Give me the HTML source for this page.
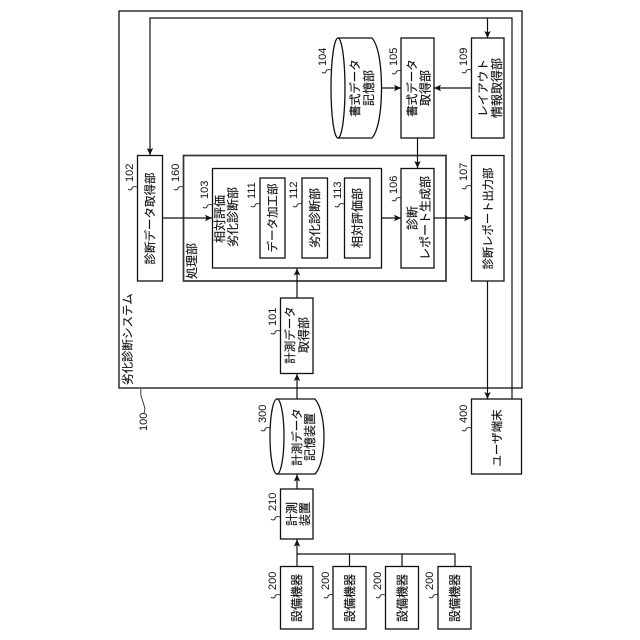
<!DOCTYPE html>
<html>
<head>
<meta charset="utf-8">
<style>
html,body{margin:0;padding:0;background:#fff;}
svg{display:block;}
.t{font-family:"Liberation Sans","Noto Sans CJK JP",sans-serif;font-size:12px;fill:#111;stroke:#111;stroke-width:0.15;text-anchor:middle;}
.s{text-anchor:start;}
.u{font-size:11.5px;}
.n{font-family:"Liberation Sans",sans-serif;font-size:11px;fill:#111;text-anchor:start;}
.b{fill:#fff;stroke:#111;stroke-width:1.3;}
.l{fill:none;stroke:#111;stroke-width:1.2;}
.q{fill:none;stroke:#222;stroke-width:0.9;}
</style>
</head>
<body>
<svg width="640" height="640" viewBox="0 0 640 640" xmlns="http://www.w3.org/2000/svg">
<defs>
<marker id="a" markerUnits="userSpaceOnUse" markerWidth="8" markerHeight="8" refX="7" refY="4" orient="auto">
<path d="M0,0.8 L7,4 L0,7.2 L1.5,4 Z" fill="#111"/>
</marker>
</defs>
<rect width="640" height="640" fill="#fff"/>

<!-- system frame -->
<rect class="b" x="119" y="11" width="403" height="377"/>
<!-- return line -->
<path class="l" d="M512,399 V18 H150 V155" marker-end="url(#a)"/>
<path class="l" d="M487.5,18 V38" marker-end="url(#a)"/>

<!-- processing box -->
<rect x="183.5" y="155.5" width="262.5" height="125.5" fill="#fff" stroke="#333" stroke-width="1.7"/>

<!-- boxes -->
<rect class="b" x="137.5" y="155.5" width="25" height="125.5"/>
<rect class="b" x="212.5" y="168.5" width="169" height="99.5"/>
<rect class="b" x="260" y="178" width="25" height="80"/>
<rect class="b" x="302" y="178" width="25.5" height="80"/>
<rect class="b" x="344.5" y="178" width="25.5" height="80"/>
<rect class="b" x="401" y="168.5" width="33" height="99.5"/>
<rect class="b" x="401" y="38" width="33" height="100"/>
<rect class="b" x="471.5" y="38" width="32.5" height="100"/>
<rect class="b" x="471.5" y="155.5" width="32.5" height="125.5"/>
<rect class="b" x="280.5" y="298" width="32.5" height="75.5"/>
<rect class="b" x="280.5" y="489" width="32.5" height="50"/>
<rect class="b" x="471.5" y="399" width="50" height="75"/>
<rect class="b" x="280.5" y="566.5" width="32.5" height="62.5"/>
<rect class="b" x="333" y="566.5" width="33" height="62.5"/>
<rect class="b" x="385.5" y="566.5" width="33" height="62.5"/>
<rect class="b" x="438" y="566.5" width="33" height="62.5"/>

<!-- cylinder 104 -->
<path class="b" d="M338,38 H372 C379,46 381.5,68 381.5,88 C381.5,108 379,130 372,138 H338 Z"/>
<ellipse class="b" cx="338" cy="88" rx="7" ry="50"/>
<!-- cylinder 300 -->
<path class="b" d="M277,399 H315 C321,406 324,422 324,437 C324,452 321,468 315,474 H277 Z"/>
<ellipse class="b" cx="277" cy="436.5" rx="7" ry="37.5"/>

<!-- connectors -->
<path class="l" d="M382,88 H401" marker-end="url(#a)"/>
<path class="l" d="M471.5,88 H434" marker-end="url(#a)"/>
<path class="l" d="M417.5,138 V168" marker-end="url(#a)"/>
<path class="l" d="M162.5,218 H212" marker-end="url(#a)"/>
<path class="l" d="M381.5,218 H401" marker-end="url(#a)"/>
<path class="l" d="M434,218 H471" marker-end="url(#a)"/>
<path class="l" d="M487.5,281 V399" marker-end="url(#a)"/>
<path class="l" d="M297,298 V268.5" marker-end="url(#a)"/>
<path class="l" d="M297,399 V374" marker-end="url(#a)"/>
<path class="l" d="M297,489 V474.5" marker-end="url(#a)"/>
<path class="l" d="M297,566.5 V539.5" marker-end="url(#a)"/>
<path class="l" d="M297,554 H455 V566.5 M349.5,554 V566.5 M402,554 V566.5"/>

<!-- text -->
<text class="t s u" transform="translate(131.5,385) rotate(-90)">劣化診断システム</text>
<text class="t s" transform="translate(196,279) rotate(-90)">処理部</text>
<text class="t u" transform="translate(154,218.5) rotate(-90)">診断データ取得部</text>
<text class="t" transform="translate(224,219) rotate(-90)">相対評価</text>
<text class="t" transform="translate(237,217) rotate(-90)">劣化診断部</text>
<text class="t u" transform="translate(276.5,218) rotate(-90)">データ加工部</text>
<text class="t" transform="translate(319,218) rotate(-90)">劣化診断部</text>
<text class="t" transform="translate(361.5,218) rotate(-90)">相対評価部</text>
<text class="t u" transform="translate(359,88) rotate(-90)">書式データ</text>
<text class="t" transform="translate(373,88) rotate(-90)">記憶部</text>
<text class="t u" transform="translate(416,88) rotate(-90)">書式データ</text>
<text class="t" transform="translate(429.5,88) rotate(-90)">取得部</text>
<text class="t u" transform="translate(487,88) rotate(-90)">レイアウト</text>
<text class="t" transform="translate(501,88) rotate(-90)">情報取得部</text>
<text class="t" transform="translate(416.5,218) rotate(-90)">診断</text>
<text class="t" transform="translate(429.5,218) rotate(-90)">レポート生成部</text>
<text class="t u" transform="translate(492,218.5) rotate(-90)" style="font-size:11.3px">診断レポート出力部</text>
<text class="t u" transform="translate(294,335) rotate(-90)">計測データ</text>
<text class="t" transform="translate(308,335) rotate(-90)">取得部</text>
<text class="t u" transform="translate(301,437) rotate(-90)">計測データ</text>
<text class="t" transform="translate(314,437) rotate(-90)">記憶装置</text>
<text class="t" transform="translate(296,514) rotate(-90)">計測</text>
<text class="t" transform="translate(309,514) rotate(-90)">装置</text>
<text class="t" transform="translate(301,598) rotate(-90)">設備機器</text>
<text class="t" transform="translate(354,598) rotate(-90)">設備機器</text>
<text class="t" transform="translate(406.5,598) rotate(-90)">設備機器</text>
<text class="t" transform="translate(459,598) rotate(-90)">設備機器</text>
<text class="t u" transform="translate(501,438) rotate(-90)">ユーザ端末</text>

<!-- numbers -->
<g>
<text class="n" transform="translate(133,182) rotate(-90)">102</text>
<text class="n" transform="translate(179,182) rotate(-90)">160</text>
<text class="n" transform="translate(208,199) rotate(-90)">103</text>
<text class="n" transform="translate(255,199) rotate(-90)">111</text>
<text class="n" transform="translate(297,199) rotate(-90)">112</text>
<text class="n" transform="translate(341,199) rotate(-90)">113</text>
<text class="n" transform="translate(397,194) rotate(-90)">106</text>
<text class="n" transform="translate(397,66) rotate(-90)">105</text>
<text class="n" transform="translate(326,66) rotate(-90)">104</text>
<text class="n" transform="translate(467,66) rotate(-90)">109</text>
<text class="n" transform="translate(467,181) rotate(-90)">107</text>
<text class="n" transform="translate(276,326) rotate(-90)">101</text>
<text class="n" transform="translate(266,423) rotate(-90)">300</text>
<text class="n" transform="translate(276,511) rotate(-90)">210</text>
<text class="n" transform="translate(276,590) rotate(-90)">200</text>
<text class="n" transform="translate(329,590) rotate(-90)">200</text>
<text class="n" transform="translate(381,590) rotate(-90)">200</text>
<text class="n" transform="translate(433,590) rotate(-90)">200</text>
<text class="n" transform="translate(467,423) rotate(-90)">400</text>
<text class="n" transform="translate(147,431) rotate(-90)">100</text>
</g>

<!-- squiggles -->
<path class="q" d="M137,187 C134,186 132,187 132,188.5 C132,190 129,190.5 128,189"/>
<path class="q" d="M183,187 C180,186 178,187 178,188.5 C178,190 175,190.5 174,189"/>
<path class="q" d="M212,205 C209,204 207,205 207,206.5 C207,208 204,208.5 203,207"/>
<path class="q" d="M260,204 C257,203 255,204 255,205.5 C255,207 252,207.5 251,206"/>
<path class="q" d="M302,204 C299,203 297,204 297,205.5 C297,207 294,207.5 293,206"/>
<path class="q" d="M344,204 C341,203 339,204 339,205.5 C339,207 336,207.5 335,206"/>
<path class="q" d="M401,198 C398,197 396,198 396,199.5 C396,201 393,201.5 392,200"/>
<path class="q" d="M401,71 C398,70 396,71 396,72.5 C396,74 393,74.5 392,73"/>
<path class="q" d="M331,70 C328,69 326,70 326,71.5 C326,73 323,73.5 322,72"/>
<path class="q" d="M471,70 C468,69 466,70 466,71.5 C466,73 463,73.5 462,72"/>
<path class="q" d="M471,186 C468,185 466,186 466,187.5 C466,189 463,189.5 462,188"/>
<path class="q" d="M280,331 C277,330 275,331 275,332.5 C275,334 272,334.5 271,333"/>
<path class="q" d="M270,428 C267,427 265,428 265,429.5 C265,431 262,431.5 261,430"/>
<path class="q" d="M280,517 C277,516 275,517 275,518.5 C275,520 272,520.5 271,519"/>
<path class="q" d="M280,595 C277,594 275,595 275,596.5 C275,598 272,598.5 271,597"/>
<path class="q" d="M333,595 C330,594 328,595 328,596.5 C328,598 325,598.5 324,597"/>
<path class="q" d="M385,595 C382,594 380,595 380,596.5 C380,598 377,598.5 376,597"/>
<path class="q" d="M438,595 C435,594 433,595 433,596.5 C433,598 430,598.5 429,597"/>
<path class="q" d="M471,428 C468,427 466,428 466,429.5 C466,431 463,431.5 462,430"/>
<path class="q" d="M141,389 C140,396 142,398 143,402 C144,406 146,408 144,413"/>
</svg>
</body>
</html>
